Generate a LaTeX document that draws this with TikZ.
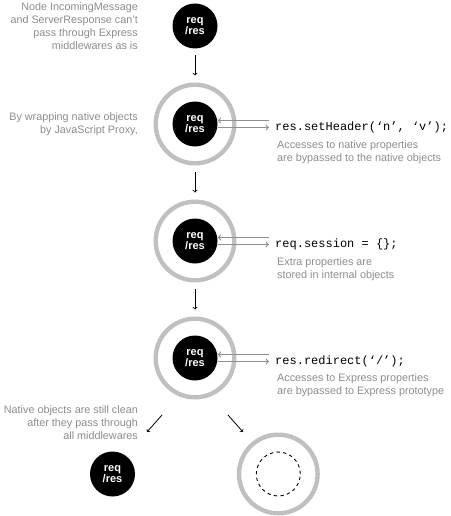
\documentclass[tikz,border=0pt]{standalone}
\usepackage{fontspec}
\setmainfont{Liberation Sans}
\newfontfamily\codefont{Liberation Mono}
\usetikzlibrary{positioning}

\definecolor{notegray}{HTML}{8C8C8C}
\definecolor{ringgray}{HTML}{C0C0C0}
\definecolor{linegray}{HTML}{8F8F8F}

\tikzset{
  obj/.style={circle, fill=black, minimum size=45pt, inner sep=0pt, text=white,
    align=center, font=\bfseries\fontsize{11}{11.5}\selectfont},
  ring/.style={circle, draw=ringgray, line width=4.4pt, minimum size=78.6pt, inner sep=0pt},
  hollow/.style={circle, draw, dashed, dash pattern=on 3.3pt off 3.3pt, line width=0.9pt,
    minimum size=44pt, inner sep=0pt},
  note/.style={text=notegray, inner sep=0pt, font=\fontsize{10.8}{13}\selectfont},
  codetext/.style={inner sep=0pt, anchor=west, font=\codefont\fontsize{12}{14}\selectfont},
  flow/.style={->, line width=0.8pt, shorten <=6.5pt, shorten >=7pt},
  bypass/.style={draw=linegray, line width=1.2pt, shorten >=6pt}
}

\begin{document}
\begin{tikzpicture}[x=1pt, y=-1pt]
    \useasboundingbox (0,0) rectangle (450,516);

    % 1. Oggetti nativi (in alto)
    \node[obj] (req1) at (195,26) {req\\/res};
    \node[note, anchor=east, align=right] (note1) at (138,26)
      {Node IncomingMessage\\and ServerResponse can't\\pass through Express\\middlewares as is};

    % 2. Primo proxy
    \node[ring] (ring2) at (195,124) {};
    \node[obj] (req2) at (195,124) {req\\/res};
    \node[note, anchor=east, align=right] (note2) at (138,124)
      {By wrapping native objects\\by JavaScript Proxy,};
    \node[codetext] (code2) at (275,127) {res.setHeader(‘n’, ‘v’);};
    \node[note, anchor=west, align=left] (desc2) at (277,152)
      {Accesses to native properties\\are bypassed to the native objects};

    % 3. Secondo proxy
    \node[ring] (ring3) at (195,241) {};
    \node[obj] (req3) at (195,241) {req\\/res};
    \node[codetext] (code3) at (275,244) {req.session = \{\};};
    \node[note, anchor=west, align=left] (desc3) at (277,269)
      {Extra properties are\\stored in internal objects};

    % 4. Terzo proxy
    \node[ring] (ring4) at (195,358) {};
    \node[obj] (req4) at (195,358) {req\\/res};
    \node[codetext] (code4) at (275,361) {res.redirect(‘/’);};
    \node[note, anchor=west, align=left] (desc4) at (277,385)
      {Accesses to Express properties\\are bypassed to Express prototype};

    % 5. Frecce verticali
    \draw[flow] (req1) -- (ring2);
    \draw[flow] (ring2) -- (ring3);
    \draw[flow] (ring3) -- (ring4);

    % 6. Frecce doppie verso il codice
    \foreach \n in {2,3,4} {
      \draw[bypass, <-] ([yshift=3.5pt]req\n.east) -- ([yshift=3.5pt]req\n.east -| code\n.west);
      \draw[bypass, ->] ([yshift=-3.5pt]req\n.east) -- ([yshift=-3.5pt]req\n.east -| code\n.west);
    }

    % 7. Uscita: oggetti nativi e proxy vuoto
    \coordinate (forkL) at (162,415);
    \coordinate (forkLend) at (147,432);
    \coordinate (forkR) at (228,415);
    \coordinate (forkRend) at (243,432);
    \draw[->, line width=0.8pt] (forkL) -- (forkLend);
    \draw[->, line width=0.8pt] (forkR) -- (forkRend);

    \node[note, anchor=east, align=right] (note5) at (138,423)
      {Native objects are still clean\\after they pass through\\all middlewares};
    \node[obj] (req5) at (112.5,474) {req\\/res};
    \node[ring] (ring6) at (278.3,474) {};
    \node[hollow] (empty6) at (278.3,474) {};

\end{tikzpicture}
\end{document}
